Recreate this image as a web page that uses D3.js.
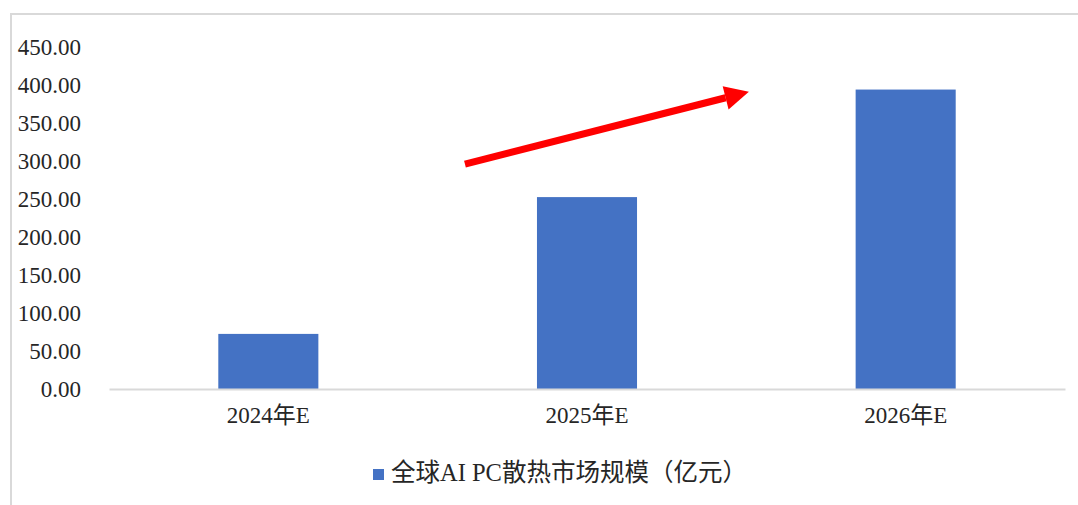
<!DOCTYPE html>
<html>
<head>
<meta charset="utf-8">
<script src="https://cdn.jsdelivr.net/npm/d3@7"></script>
<style>
  body { margin: 0; background: #fff; }
  text { font-family: "Liberation Serif", "Noto Sans CJK SC", serif; fill: #262626; }
</style>
</head>
<body>
<div id="viz"></div>
<script>
// chart data
const categories = ["2024年E", "2025年E", "2026年E"];
const values = [72.5, 252.5, 394];
const yTicks = [0, 50, 100, 150, 200, 250, 300, 350, 400, 450];
const seriesName = "全球AI PC散热市场规模（亿元）";
// trend arrow, in category-index / value units
const arrowFrom = [0.617, 296];
const arrowTo = [1.508, 391];

const width = 1078;
const height = 505;
const margin = {left: 109, top: 47, right: 13, bottom: 116};

const g_width = width - margin.left - margin.right;
const g_height = height - margin.top - margin.bottom;

const svg = d3.select("#viz")
  .append("svg")
  .attr("width", width)
  .attr("height", height);

// outer chart border (cropped at right and bottom)
svg.append("rect")
  .attr("x", 11)
  .attr("y", 14)
  .attr("width", 1100)
  .attr("height", 600)
  .attr("fill", "none")
  .attr("stroke", "#d9d9d9")
  .attr("stroke-width", 2);

const g = svg.append("g")
  .attr("transform", "translate(" + margin.left + "," + margin.top + ")");

// scales
const x = d3.scaleBand()
  .domain(categories)
  .range([0, g_width])
  .paddingInner(0.686)
  .paddingOuter(0.343);

const xIdx = d3.scaleLinear()
  .domain([-0.5, categories.length - 0.5])
  .range([0, g_width]);

const y = d3.scaleLinear().domain([0, 450]).range([g_height, 0]);

// y axis labels only
const yAxis = g.append("g")
  .call(d3.axisLeft(y).tickValues(yTicks).tickFormat(d3.format(".2f")).tickSize(0).tickPadding(28));
yAxis.select(".domain").remove();
yAxis.selectAll("text")
  .style("font-family", "Liberation Serif")
  .style("font-size", "23px")
  .attr("fill", "#262626");

// bars
g.selectAll(".bar")
  .data(values)
  .enter()
  .append("rect")
  .attr("class", "bar")
  .attr("x", (d, i) => x(categories[i]))
  .attr("y", d => y(d))
  .attr("width", x.bandwidth())
  .attr("height", d => y(0) - y(d))
  .attr("fill", "#4472c4");

// x axis
const xAxis = g.append("g")
  .attr("transform", "translate(0," + g_height + ")")
  .call(d3.axisBottom(x).tickSize(0).tickPadding(18));
xAxis.select(".domain")
  .attr("stroke", "#d9d9d9")
  .attr("stroke-width", 2);
xAxis.selectAll("text")
  .style("font-size", "23px")
  .attr("fill", "#262626");

// red trend arrow
const ax1 = xIdx(arrowFrom[0]), ay1 = y(arrowFrom[1]);
const ax2 = xIdx(arrowTo[0]), ay2 = y(arrowTo[1]);
const ang = Math.atan2(ay2 - ay1, ax2 - ax1);
const headLen = 24, headHalf = 12;
const bx = ax2 - headLen * Math.cos(ang), by = ay2 - headLen * Math.sin(ang);
g.append("line")
  .attr("x1", ax1).attr("y1", ay1)
  .attr("x2", bx).attr("y2", by)
  .attr("stroke", "#ff0000")
  .attr("stroke-width", 7);
g.append("path")
  .attr("d", d3.line()([
    [ax2, ay2],
    [bx + headHalf * Math.sin(ang), by - headHalf * Math.cos(ang)],
    [bx - headHalf * Math.sin(ang), by + headHalf * Math.cos(ang)]
  ]) + "Z")
  .attr("fill", "#ff0000");

// legend
const legend = svg.append("g").attr("transform", "translate(373,475)");
legend.append("rect")
  .attr("x", 0).attr("y", -6)
  .attr("width", 11).attr("height", 11)
  .attr("fill", "#4472c4");
legend.append("text")
  .attr("x", 18)
  .attr("y", 0)
  .attr("dominant-baseline", "middle")
  .style("font-size", "24.5px")
  .attr("fill", "#404040")
  .text(seriesName);
</script>
</body>
</html>
